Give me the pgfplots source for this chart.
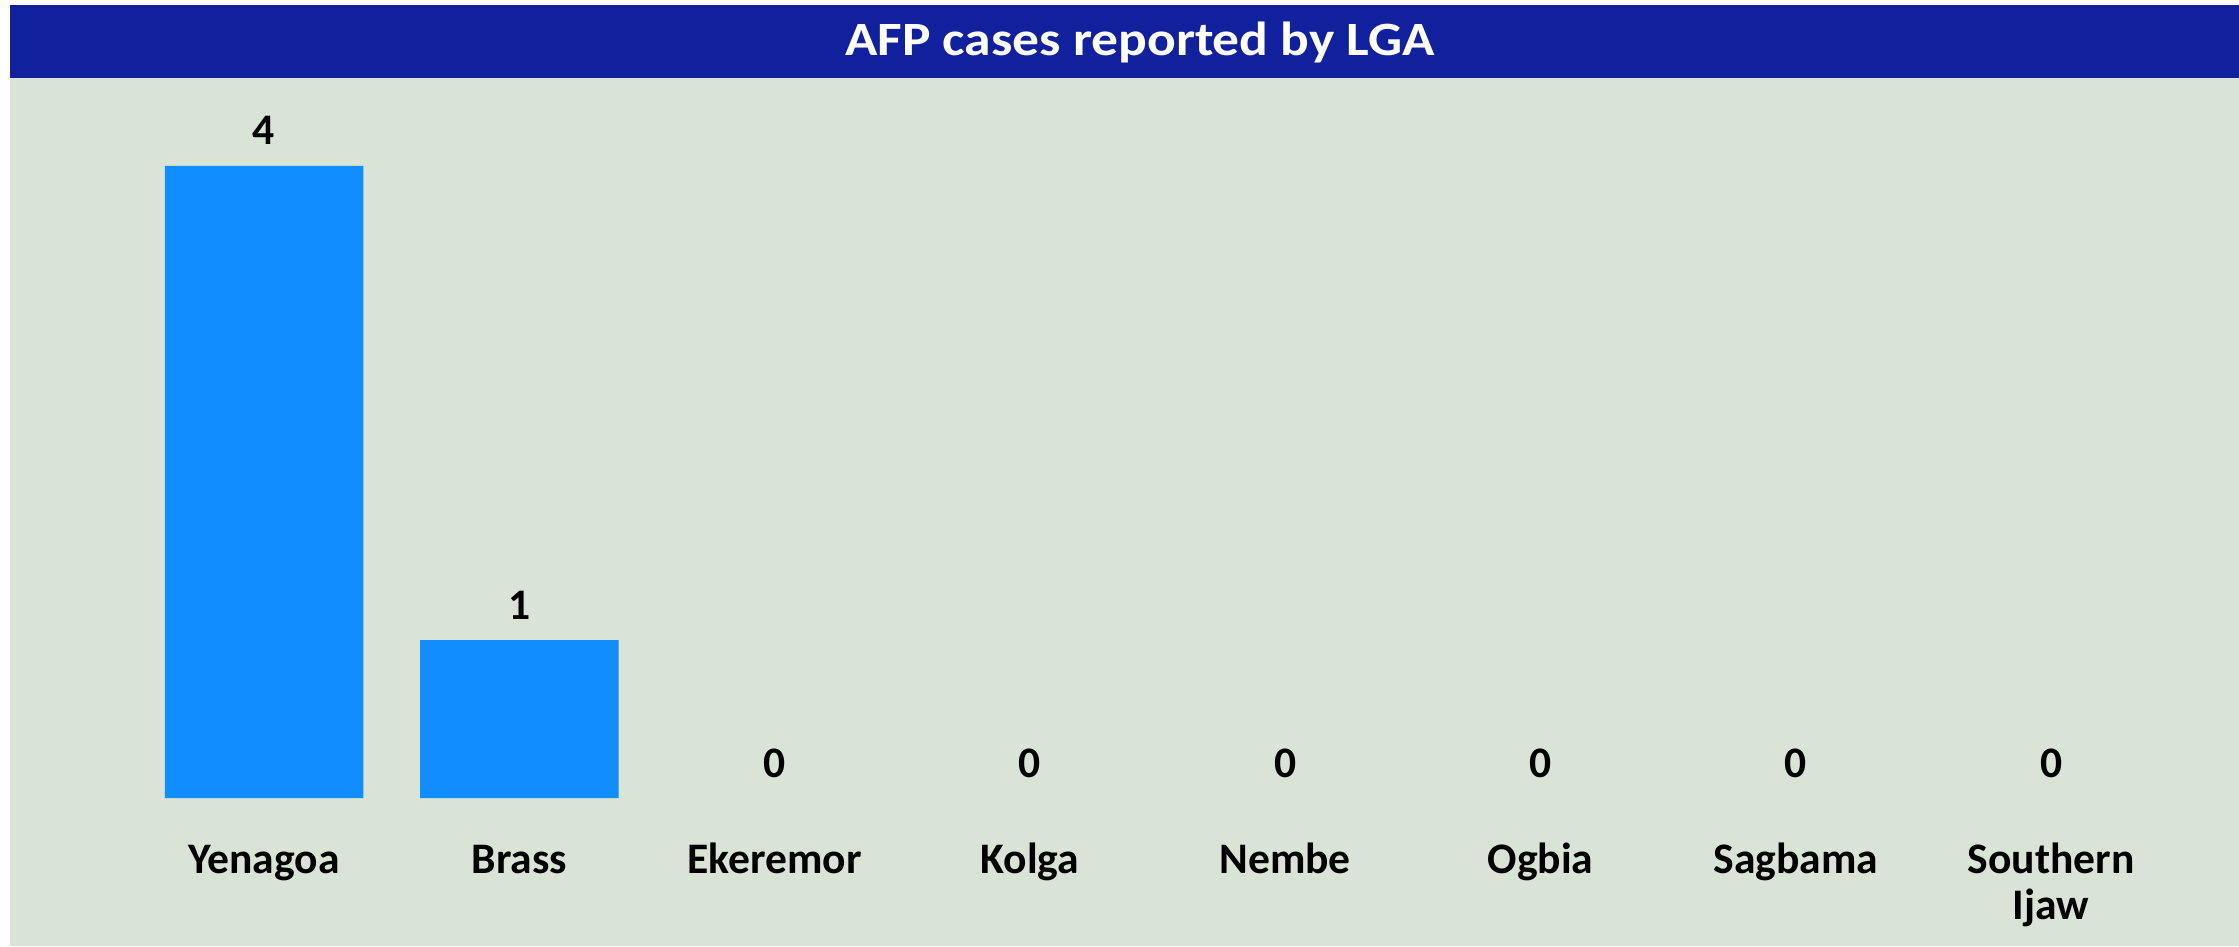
\documentclass[border=0pt]{standalone}
\usepackage{pgfplots}
\pgfplotsset{compat=1.18}
\usepackage{pgfplotstable}
\usepackage{graphicx}
\usepackage{fontspec}
\setmainfont{Carlito}
\definecolor{bg}{RGB}{217,227,214}
\definecolor{band}{RGB}{17,33,158}
\definecolor{barblue}{RGB}{17,141,255}
\pgfplotstableread{
x y
0 4
1 1
2 0
3 0
4 0
5 0
6 0
7 0
}\datatable
\begin{document}
\begin{tikzpicture}
\fill[white] (0,0) rectangle (22.39,9.46);
\fill[bg] (0.1,0) rectangle (22.39,8.68);
\fill[band] (0.1,8.68) rectangle (22.39,9.41);
\node[text=white, anchor=base, font=\fontsize{13.6pt}{15pt}\selectfont\bfseries] at (11.40,8.90) {\scalebox{1.12}[1]{AFP cases reported by LGA}};
\begin{axis}[
 at={(0.1cm,1.48cm)}, anchor=south west,
 scale only axis, width=22.29cm, height=7.2cm,
 xmin=-0.995, xmax=7.736, ymin=0, ymax=4.557,
 ybar, bar width=1.985cm, bar shift=0pt,
 axis line style={draw=none}, major tick style={draw=none},
 ytick=\empty, xtick={0,1,2,3,4,5,6,7},
 xticklabels={Yenagoa,Brass,Ekeremor,Kolga,Nembe,Ogbia,Sagbama,{\begin{tabular}[t]{@{}c@{}}Southern\\Ijaw\end{tabular}}},
 xticklabel style={anchor=base, yshift=-0.60cm, font=\fontsize{12.4pt}{13.1pt}\selectfont\bfseries},
 /pgf/number format/assume math mode=true,
 clip=false,
]
\addplot[fill=barblue, draw=none, unbounded coords=discard,
  y filter/.expression={y==0 ? nan : y}] table[x=x,y=y] {\datatable};
\addplot[draw=none, fill=none,
  nodes near coords,
  nodes near coords style={anchor=base, yshift=0.21cm, text=black, font=\fontsize{12.4pt}{14pt}\selectfont\bfseries}] table[x=x,y=y] {\datatable};
\end{axis}
\end{tikzpicture}
\end{document}
